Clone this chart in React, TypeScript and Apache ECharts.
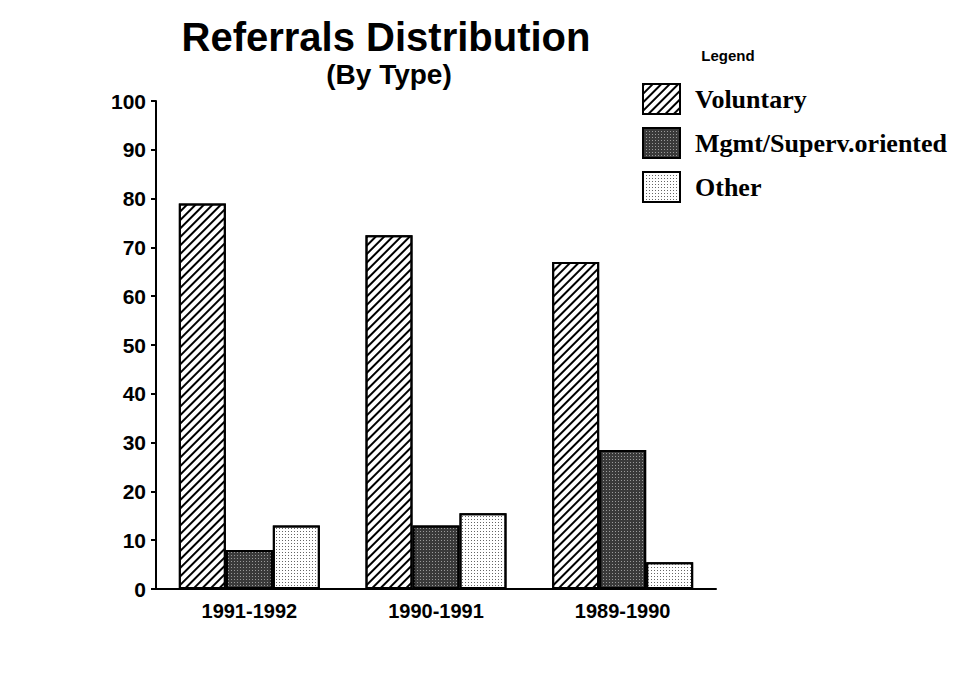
import React, { useEffect, useRef } from "react";
import * as echarts from "echarts";

const categories = ["1991-1992", "1990-1991", "1989-1990"];
const seriesNames = ["Voluntary", "Mgmt/Superv.oriented", "Other"];
const voluntary = [79, 72.5, 67];
const mgmt = [8, 13, 28.5];
const other = [13, 15.5, 5.5];
const yTicks = { min: 0, max: 100, interval: 10 };

export default function App() {
  const ref = useRef<HTMLDivElement>(null);
  useEffect(() => {
    document.body.style.margin = "0";
    const chart = echarts.init(ref.current!, null, { renderer: "svg" });
    const border = { borderColor: "#000", borderWidth: 2 };
    chart.setOption({
      animation: false,
      backgroundColor: "#ffffff",
      graphic: [
        {
          type: "text",
          x: 386,
          y: 37,
          style: {
            text: "Referrals Distribution",
            fontFamily: "Liberation Sans",
            fontWeight: "bold",
            fontSize: 40,
            fill: "#000",
            textAlign: "center",
            textVerticalAlign: "middle",
          },
        },
        {
          type: "text",
          x: 389,
          y: 74,
          style: {
            text: "(By Type)",
            fontFamily: "Liberation Sans",
            fontWeight: "bold",
            fontSize: 28,
            fill: "#000",
            textAlign: "center",
            textVerticalAlign: "middle",
          },
        },
        {
          type: "text",
          x: 728,
          y: 55,
          style: {
            text: "Legend",
            fontFamily: "Liberation Sans",
            fontWeight: "bold",
            fontSize: 15,
            fill: "#000",
            textAlign: "center",
            textVerticalAlign: "middle",
          },
        },
      ],
      legend: {
        orient: "vertical",
        left: 637,
        top: 78,
        itemWidth: 37,
        itemHeight: 30,
        itemGap: 12,
        icon: "rect",
        data: seriesNames,
        textStyle: {
          fontFamily: "Liberation Serif",
          fontWeight: "bold",
          fontSize: 26,
          color: "#000",
          padding: [0, 0, 0, 10],
        },
      },
      grid: { left: 156, top: 101, right: 245, bottom: 89 },
      xAxis: {
        type: "category",
        data: categories,
        axisLine: { lineStyle: { color: "#000", width: 2 } },
        axisTick: { alignWithLabel: true, length: 5, lineStyle: { color: "#000", width: 2 } },
        axisLabel: {
          margin: 12,
          fontFamily: "Liberation Sans",
          fontWeight: "bold",
          fontSize: 20,
          color: "#000",
        },
      },
      yAxis: {
        type: "value",
        min: yTicks.min,
        max: yTicks.max,
        interval: yTicks.interval,
        splitLine: { show: false },
        axisLine: { show: true, lineStyle: { color: "#000", width: 2 } },
        axisTick: { show: true, length: 5, lineStyle: { color: "#000", width: 2 } },
        axisLabel: {
          margin: 10,
          fontFamily: "Liberation Sans",
          fontWeight: "bold",
          fontSize: 21,
          color: "#000",
        },
      },
      series: [
        {
          name: seriesNames[0],
          type: "bar",
          data: voluntary,
          barWidth: 47,
          barGap: "0%",
          itemStyle: {
            color: "#ffffff",
            ...border,
            decal: {
              symbol: "rect",
              symbolSize: 1,
              color: "#000",
              dashArrayX: [1, 0],
              dashArrayY: [1.5, 4],
              rotation: -Math.PI / 4,
            },
          },
        },
        {
          name: seriesNames[1],
          type: "bar",
          data: mgmt,
          barWidth: 47,
          barGap: "0%",
          itemStyle: {
            color: "#3a3a3a",
            ...border,
            decal: {
              symbol: "rect",
              symbolSize: 1,
              color: "#9a9a9a",
              dashArrayX: [1, 2],
              dashArrayY: [1, 2],
              rotation: 0,
            },
          },
        },
        {
          name: seriesNames[2],
          type: "bar",
          data: other,
          barWidth: 47,
          barGap: "0%",
          itemStyle: {
            color: "#ffffff",
            ...border,
            decal: {
              symbol: "rect",
              symbolSize: 1,
              color: "#666",
              dashArrayX: [1, 2],
              dashArrayY: [1, 2],
              rotation: 0,
            },
          },
        },
      ],
    });
    return () => chart.dispose();
  }, []);
  return <div ref={ref} style={{ width: 961, height: 678 }} />;
}
